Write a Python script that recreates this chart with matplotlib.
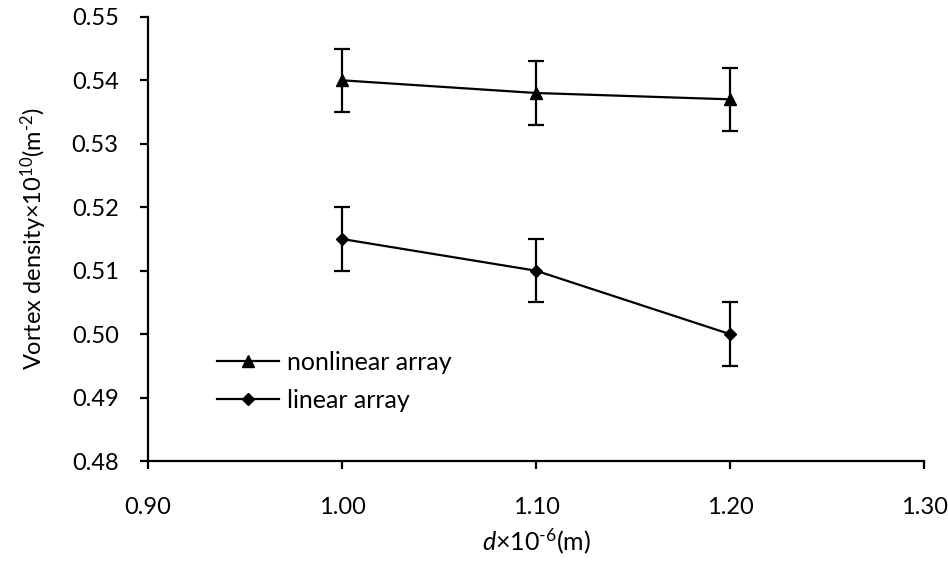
import matplotlib
matplotlib.use("Agg")
import matplotlib.pyplot as plt

# data
d_values = [1.00, 1.10, 1.20]
nonlinear_density = [0.540, 0.538, 0.537]
nonlinear_err = [0.005, 0.005, 0.005]
linear_density = [0.515, 0.510, 0.500]
linear_err = [0.005, 0.005, 0.005]

x_ticks = [0.90, 1.00, 1.10, 1.20, 1.30]
y_ticks = [0.48, 0.49, 0.50, 0.51, 0.52, 0.53, 0.54, 0.55]


def main():
    plt.rcParams["font.family"] = ["Lato", "DejaVu Sans"]
    plt.rcParams["mathtext.fontset"] = "custom"
    plt.rcParams["mathtext.it"] = "Lato:italic"
    plt.rcParams["mathtext.rm"] = "Lato"

    fig = plt.figure(figsize=(9.48, 5.61), dpi=100)
    ax = fig.add_axes([0.156, 0.178, 0.819, 0.792])

    # error bars first, then lines with markers (legend uses plain lines)
    ax.errorbar(d_values, nonlinear_density, yerr=nonlinear_err, fmt="none",
                ecolor="black", elinewidth=1.6, capsize=6, capthick=1.6)
    ax.errorbar(d_values, linear_density, yerr=linear_err, fmt="none",
                ecolor="black", elinewidth=1.6, capsize=6, capthick=1.6)
    ax.plot(d_values, nonlinear_density, color="black", marker="^",
            markersize=8, linewidth=1.6, label="nonlinear array")
    ax.plot(d_values, linear_density, color="black", marker="D",
            markersize=6, linewidth=1.6, label="linear array")

    ax.set_xlim(0.90, 1.30)
    ax.set_ylim(0.48, 0.55)
    ax.set_xticks(x_ticks)
    ax.set_yticks(y_ticks)
    ax.set_xticklabels([f"{v:.2f}" for v in x_ticks])
    ax.set_yticklabels([f"{v:.2f}" for v in y_ticks])
    ax.tick_params(direction="out", length=6, width=1.6, labelsize=17)
    ax.tick_params(axis="x", pad=20)
    ax.tick_params(axis="y", pad=15)

    for side in ["top", "right"]:
        ax.spines[side].set_visible(False)
    for side in ["left", "bottom"]:
        ax.spines[side].set_linewidth(1.6)

    ax.set_xlabel("$d$×10$^{\u20106}$(m)", fontsize=18, labelpad=6)
    ax.set_ylabel("Vortex density×10$^{10}$(m$^{\u20102}$)", fontsize=17,
                  labelpad=16)

    ax.legend(loc="lower left", bbox_to_anchor=(0.06, 0.06), frameon=False,
              fontsize=18, handlelength=2.5, handletextpad=0.3, labelspacing=0.6)

    fig.savefig("out.png", dpi=100)


if __name__ == "__main__":
    main()
